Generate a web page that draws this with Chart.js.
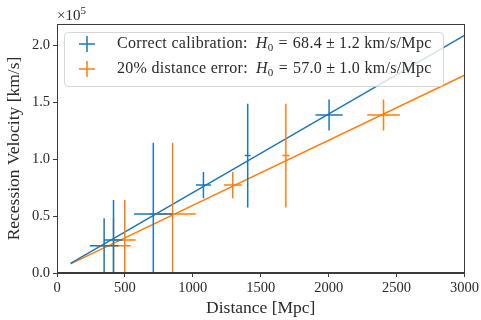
<!DOCTYPE html>
<html>
<head>
<meta charset="utf-8">
<script src="https://cdn.jsdelivr.net/npm/chart.js@4/dist/chart.umd.min.js"></script>
<style>
  html, body { margin: 0; padding: 0; background: #fff; }
  canvas { display: block; }
</style>
</head>
<body>
<canvas id="hubble-chart" width="481" height="320"></canvas>
<script>
// measured points (distance in Mpc, velocity in km/s)
var blueDist = [347, 416, 709, 1078, 1404, 2003];
var blueDistErr = [105, 67, 142, 55, 22, 100];
var orangeDist = [416, 499, 851, 1294, 1685, 2404];
var orangeDistErr = [126, 80, 170, 66, 26, 120];
var velocity = [24000, 29000, 51700, 77200, 103000, 138600];
var velocityErr = [24000, 35000, 62500, 11500, 45500, 13600];

// fitted lines
var fitDist = [100, 3000];
var blueFit = [8500, 208500];
var orangeFit = [8000, 173500];

var seriesNames = ["Correct calibration:", "20% distance error:"];
var h0Value = ["68.4", "57.0"];
var h0Error = ["1.2", "1.0"];
var xTicks = [0, 500, 1000, 1500, 2000, 2500, 3000];
var yTicks = [0, 50000, 100000, 150000, 200000];

var BLUE = "#1f77b4";
var ORANGE = "#ff7f0e";
var SERIF = '"Liberation Serif", "DejaVu Serif", serif';
var TEXT = "#2a2a2a";
var FRAME = "#3a3a3a";

function errorSegments(xs, xe, ys, ye) {
    var pts = [];
    for (var i = 0; i < xs.length; i++) {
        pts.push({ x: xs[i] - xe[i], y: ys[i] });
        pts.push({ x: xs[i] + xe[i], y: ys[i] });
        pts.push({ x: xs[i], y: null });
        pts.push({ x: xs[i], y: ys[i] - ye[i] });
        pts.push({ x: xs[i], y: ys[i] + ye[i] });
        pts.push({ x: xs[i], y: null });
    }
    return pts;
}

function linePoints(xs, ys) {
    return xs.map(function (x, i) { return { x: x, y: ys[i] }; });
}

// draws "name  H_0 = v ± e km/s/Mpc" piece by piece
function drawLabel(ctx, x, y, name, value, err) {
    var size = 16;
    var body = size + "px " + SERIF;
    ctx.fillStyle = TEXT;
    ctx.textAlign = "left";
    ctx.textBaseline = "middle";
    ctx.letterSpacing = "0.3px";
    function put(text, font, dy, gapAfter) {
        ctx.font = font;
        ctx.fillText(text, x, y + (dy || 0));
        x += ctx.measureText(text).width + (gapAfter || 0);
    }
    put(name, body, 0, 8);
    put("H", "italic " + body, 0, 0);
    put("0", "11px " + SERIF, 4, 5);
    put("=", body, 0, 5);
    put(value, body, 0, 4);
    put("\u00b1", body, 0, 4);
    put(err, body, 0, 0);
    put(" km/s/Mpc", body, 0, 0);
    ctx.letterSpacing = "0px";
}

var framePlugin = {
    id: "frameAndLegend",
    afterDatasetsDraw: function (chart) {
        var ctx = chart.ctx;
        var a = chart.chartArea;
        ctx.save();
        // full box round the plot
        ctx.strokeStyle = FRAME;
        ctx.lineWidth = 1;
        ctx.strokeRect(Math.round(a.left) + 0.5, Math.round(a.top) + 0.5,
            Math.round(a.width) - 1, Math.round(a.height) - 1);

        // offset label
        ctx.fillStyle = TEXT;
        ctx.textBaseline = "alphabetic";
        ctx.textAlign = "left";
        ctx.font = "15px " + SERIF;
        ctx.fillText("\u00d710", a.left, a.top - 4);
        var w = ctx.measureText("\u00d710").width;
        ctx.font = "11px " + SERIF;
        ctx.fillText("5", a.left + w, a.top - 10);

        // legend
        var bx = a.left + 7, by = a.top + 8, bw = 379, bh = 54;
        ctx.beginPath();
        ctx.roundRect(bx + 0.5, by + 0.5, bw, bh, 4);
        ctx.fillStyle = "rgba(255,255,255,0.8)";
        ctx.fill();
        ctx.strokeStyle = "rgba(204,204,204,0.8)";
        ctx.lineWidth = 1;
        ctx.stroke();

        var colors = [BLUE, ORANGE];
        for (var i = 0; i < 2; i++) {
            var cy = by + 12 + i * 25;
            var mx = bx + 23;
            ctx.strokeStyle = colors[i];
            ctx.lineWidth = 1.5;
            ctx.beginPath();
            ctx.moveTo(mx - 8, cy); ctx.lineTo(mx + 8, cy);
            ctx.moveTo(mx, cy - 8); ctx.lineTo(mx, cy + 8);
            ctx.stroke();
            drawLabel(ctx, bx + 53, cy, seriesNames[i], h0Value[i], h0Error[i]);
        }
        ctx.restore();
    }
};

var ctx = document.getElementById("hubble-chart").getContext("2d");
var chart = new Chart(ctx, {
    type: "scatter",
    data: {
        datasets: [
            {
                label: seriesNames[0] + " H0 = " + h0Value[0] + " \u00b1 " + h0Error[0] + " km/s/Mpc",
                data: errorSegments(blueDist, blueDistErr, velocity, velocityErr),
                showLine: true,
                spanGaps: false,
                borderColor: BLUE,
                borderWidth: 1.5,
                pointRadius: 0,
            },
            {
                label: seriesNames[1] + " H0 = " + h0Value[1] + " \u00b1 " + h0Error[1] + " km/s/Mpc",
                data: errorSegments(orangeDist, orangeDistErr, velocity, velocityErr),
                showLine: true,
                spanGaps: false,
                borderColor: ORANGE,
                borderWidth: 1.5,
                pointRadius: 0,
            },
            {
                label: "fit (correct)",
                data: linePoints(fitDist, blueFit),
                showLine: true,
                borderColor: BLUE,
                borderWidth: 1.5,
                pointRadius: 0,
            },
            {
                label: "fit (20% error)",
                data: linePoints(fitDist, orangeFit),
                showLine: true,
                borderColor: ORANGE,
                borderWidth: 1.5,
                pointRadius: 0,
            },
        ],
    },
    options: {
        responsive: false,
        animation: false,
        events: [],
        layout: { padding: { top: 24, right: 15, left: 0, bottom: 0 } },
        plugins: {
            legend: { display: false },
            tooltip: { enabled: false },
        },
        scales: {
            x: {
                type: "linear",
                min: 0,
                max: 3000,
                afterBuildTicks: function (scale) {
                    scale.ticks = xTicks.map(function (v) { return { value: v }; });
                },
                afterFit: function (scale) { scale.height = 47; },
                ticks: {
                    color: TEXT,
                    font: { family: SERIF, size: 14.5 },
                    padding: 2,
                    maxRotation: 0,
                    callback: function (v) { return String(v); },
                },
                grid: {
                    drawOnChartArea: false,
                    drawTicks: true,
                    tickLength: 4,
                    color: FRAME,
                },
                border: { color: FRAME },
                title: {
                    display: true,
                    text: "Distance [Mpc]",
                    color: TEXT,
                    font: { family: SERIF, size: 17.5 },
                    padding: { top: 0, bottom: 1 },
                },
            },
            y: {
                type: "linear",
                min: 0,
                max: 218500,
                afterBuildTicks: function (scale) {
                    scale.ticks = yTicks.map(function (v) { return { value: v }; });
                },
                afterFit: function (scale) { scale.width = 57; },
                ticks: {
                    color: TEXT,
                    font: { family: SERIF, size: 14.5 },
                    padding: 3,
                    callback: function (v) { return (v / 1e5).toFixed(1); },
                },
                grid: {
                    drawOnChartArea: false,
                    drawTicks: true,
                    tickLength: 4,
                    color: FRAME,
                },
                border: { color: FRAME },
                title: {
                    display: true,
                    text: "Recession Velocity [km/s]",
                    color: TEXT,
                    font: { family: SERIF, size: 17.5 },
                    padding: { top: 4, bottom: 0 },
                },
            },
        },
    },
    plugins: [framePlugin],
});
</script>
</body>
</html>
